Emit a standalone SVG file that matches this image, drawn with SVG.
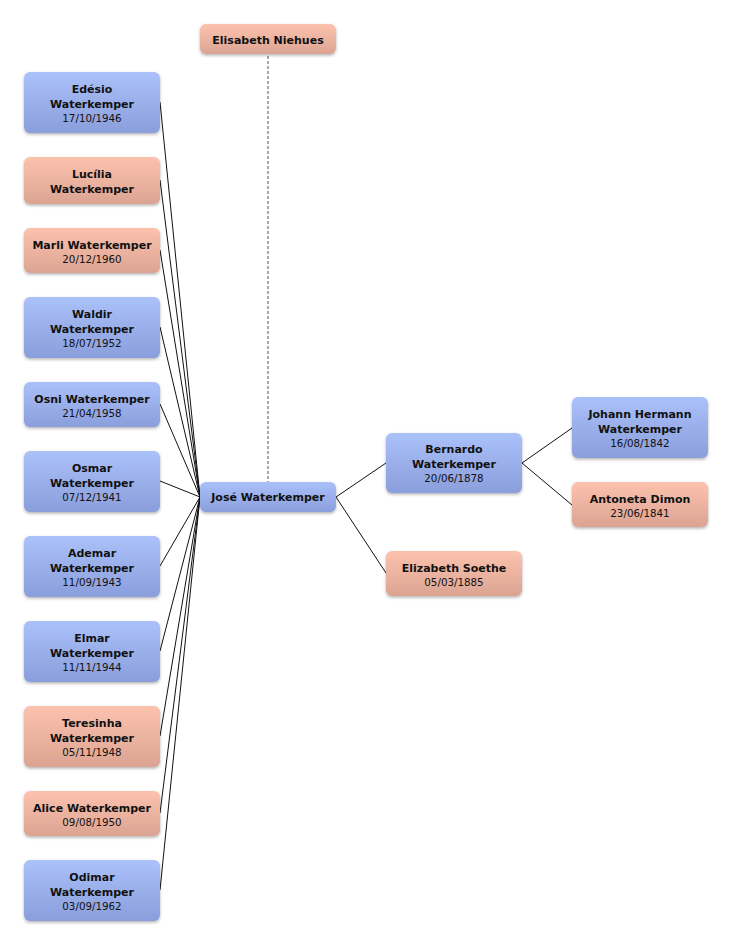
<svg xmlns="http://www.w3.org/2000/svg" width="732" height="946" viewBox="0 0 732 946">
<defs>
<linearGradient id="gb" x1="0" y1="0" x2="0" y2="1"><stop offset="0" stop-color="#abc1fa"/><stop offset="1" stop-color="#8a9edb"/></linearGradient>
<linearGradient id="gp" x1="0" y1="0" x2="0" y2="1"><stop offset="0" stop-color="#fcc2ae"/><stop offset="1" stop-color="#dba492"/></linearGradient>
<filter id="sh" x="-10%" y="-20%" width="120%" height="150%"><feDropShadow dx="0" dy="1.5" stdDeviation="1.5" flood-color="#000" flood-opacity="0.3"/></filter>
<style>
.b{fill:url(#gb);filter:url(#sh)}
.p{fill:url(#gp);filter:url(#sh)}
text{font-family:"DejaVu Sans","Liberation Sans",sans-serif;text-anchor:middle;fill:#111}
.n{font-size:11px;font-weight:bold}
.d{font-size:10.3px}
.c line{stroke:#111;stroke-width:1}
</style>
</defs>
<g class="c" id="connectors">
<line x1="268" y1="56" x2="268" y2="482" stroke-dasharray="3,2" style="stroke:#555"/>
<line x1="160" y1="102" x2="200" y2="497"/>
<line x1="160" y1="180" x2="200" y2="497"/>
<line x1="160" y1="250" x2="200" y2="497"/>
<line x1="160" y1="327" x2="200" y2="497"/>
<line x1="160" y1="404" x2="200" y2="497"/>
<line x1="160" y1="481" x2="200" y2="497"/>
<line x1="160" y1="566" x2="200" y2="497"/>
<line x1="160" y1="651" x2="200" y2="497"/>
<line x1="160" y1="736" x2="200" y2="497"/>
<line x1="160" y1="813" x2="200" y2="497"/>
<line x1="160" y1="890" x2="200" y2="497"/>
<line x1="336" y1="497" x2="386" y2="463"/>
<line x1="336" y1="497" x2="386" y2="573"/>
<line x1="522" y1="463" x2="572" y2="428"/>
<line x1="522" y1="463" x2="572" y2="505"/>
</g>
<g id="elisabeth-niehues"><rect class="p" x="200" y="24" width="136" height="30" rx="6"/><text class="n" x="268" y="44">Elisabeth Niehues</text></g>
<g id="edesio"><rect class="b" x="24" y="72" width="136" height="61" rx="6"/><text class="n" x="92" y="93">Edésio</text><text class="n" x="92" y="108">Waterkemper</text><text class="d" x="92" y="122">17/10/1946</text></g>
<g id="lucilia"><rect class="p" x="24" y="157" width="136" height="47" rx="6"/><text class="n" x="92" y="178">Lucília</text><text class="n" x="92" y="193">Waterkemper</text></g>
<g id="marli"><rect class="p" x="24" y="228" width="136" height="45" rx="6"/><text class="n" x="92" y="249">Marli Waterkemper</text><text class="d" x="92" y="263">20/12/1960</text></g>
<g id="waldir"><rect class="b" x="24" y="297" width="136" height="61" rx="6"/><text class="n" x="92" y="318">Waldir</text><text class="n" x="92" y="333">Waterkemper</text><text class="d" x="92" y="347">18/07/1952</text></g>
<g id="osni"><rect class="b" x="24" y="382" width="136" height="45" rx="6"/><text class="n" x="92" y="403">Osni Waterkemper</text><text class="d" x="92" y="417">21/04/1958</text></g>
<g id="osmar"><rect class="b" x="24" y="451" width="136" height="61" rx="6"/><text class="n" x="92" y="472">Osmar</text><text class="n" x="92" y="487">Waterkemper</text><text class="d" x="92" y="501">07/12/1941</text></g>
<g id="ademar"><rect class="b" x="24" y="536" width="136" height="61" rx="6"/><text class="n" x="92" y="557">Ademar</text><text class="n" x="92" y="572">Waterkemper</text><text class="d" x="92" y="586">11/09/1943</text></g>
<g id="elmar"><rect class="b" x="24" y="621" width="136" height="61" rx="6"/><text class="n" x="92" y="642">Elmar</text><text class="n" x="92" y="657">Waterkemper</text><text class="d" x="92" y="671">11/11/1944</text></g>
<g id="teresinha"><rect class="p" x="24" y="706" width="136" height="61" rx="6"/><text class="n" x="92" y="727">Teresinha</text><text class="n" x="92" y="742">Waterkemper</text><text class="d" x="92" y="756">05/11/1948</text></g>
<g id="alice"><rect class="p" x="24" y="791" width="136" height="45" rx="6"/><text class="n" x="92" y="812">Alice Waterkemper</text><text class="d" x="92" y="826">09/08/1950</text></g>
<g id="odimar"><rect class="b" x="24" y="860" width="136" height="61" rx="6"/><text class="n" x="92" y="881">Odimar</text><text class="n" x="92" y="896">Waterkemper</text><text class="d" x="92" y="910">03/09/1962</text></g>
<g id="jose"><rect class="b" x="200" y="482" width="136" height="30" rx="6"/><text class="n" x="268" y="501">José Waterkemper</text></g>
<g id="bernardo"><rect class="b" x="386" y="433" width="136" height="60" rx="6"/><text class="n" x="454" y="453">Bernardo</text><text class="n" x="454" y="468">Waterkemper</text><text class="d" x="454" y="482">20/06/1878</text></g>
<g id="elizabeth-soethe"><rect class="p" x="386" y="551" width="136" height="45" rx="6"/><text class="n" x="454" y="572">Elizabeth Soethe</text><text class="d" x="454" y="586">05/03/1885</text></g>
<g id="johann"><rect class="b" x="572" y="397" width="136" height="61" rx="6"/><text class="n" x="640" y="418">Johann Hermann</text><text class="n" x="640" y="433">Waterkemper</text><text class="d" x="640" y="447">16/08/1842</text></g>
<g id="antoneta"><rect class="p" x="572" y="482" width="136" height="45" rx="6"/><text class="n" x="640" y="503">Antoneta Dimon</text><text class="d" x="640" y="517">23/06/1841</text></g>
</svg>
